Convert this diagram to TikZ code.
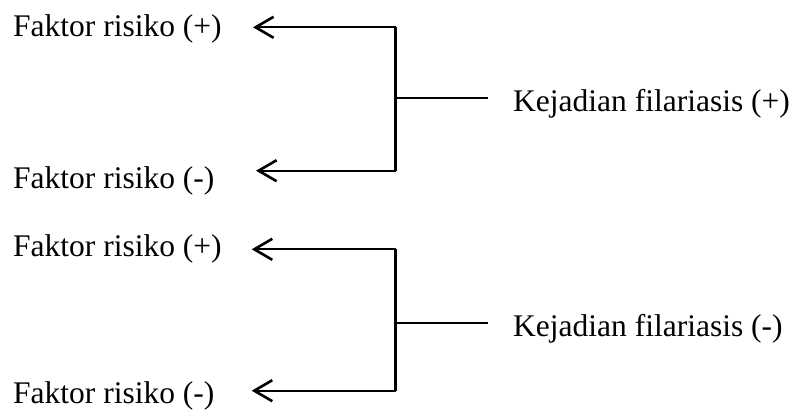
\documentclass[tikz,border=0pt]{standalone}
\usepackage{fontspec}
\setmainfont{Liberation Serif}
\usetikzlibrary{arrows.meta}
\tikzset{
  lbl/.style={anchor=base west, inner sep=0pt, font=\fontsize{31.5}{36}\selectfont},
  wire/.style={line width=2.2pt, line cap=butt},
  arr/.style={wire, -{Straight Barb[length=18pt, width=21pt, line width=2.6pt]}},
}
\begin{document}
\begin{tikzpicture}[x=1pt, y=-1pt]
  \useasboundingbox (0,0) rectangle (797,410);

  % first group: filariasis (+)
  \node[lbl] (fpA) at (13,36.7) {Faktor risiko (+)};
  \node[lbl] (fmA) at (13,188) {Faktor risiko (-)};
  \node[lbl] (kA)  at (513,111) {Kejadian filariasis (+)};
  \coordinate (tpA) at (253,27.3);
  \coordinate (tmA) at (256,170.7);
  \coordinate (cpA) at (395.5,27.3);
  \coordinate (cmA) at (395.5,170.7);
  \coordinate (jA)  at (395.5,98);
  \coordinate (eA)  at (488,98);
  \draw[wire] (cpA) -- (cmA);
  \draw[arr] (cpA) -- (tpA);
  \draw[arr] (cmA) -- (tmA);
  \draw[wire] (jA) -- (eA);

  % second group: filariasis (-)
  \node[lbl] (fpB) at (13,256.7) {Faktor risiko (+)};
  \node[lbl] (fmB) at (13,403) {Faktor risiko (-)};
  \node[lbl] (kB)  at (513,336) {Kejadian filariasis (-)};
  \coordinate (tpB) at (251.7,249.3);
  \coordinate (tmB) at (251.7,390.7);
  \coordinate (cpB) at (395.5,249.3);
  \coordinate (cmB) at (395.5,390.7);
  \coordinate (jB)  at (395.5,323.3);
  \coordinate (eB)  at (488,323.3);
  \draw[wire] (cpB) -- (cmB);
  \draw[arr] (cpB) -- (tpB);
  \draw[arr] (cmB) -- (tmB);
  \draw[wire] (jB) -- (eB);
\end{tikzpicture}
\end{document}
